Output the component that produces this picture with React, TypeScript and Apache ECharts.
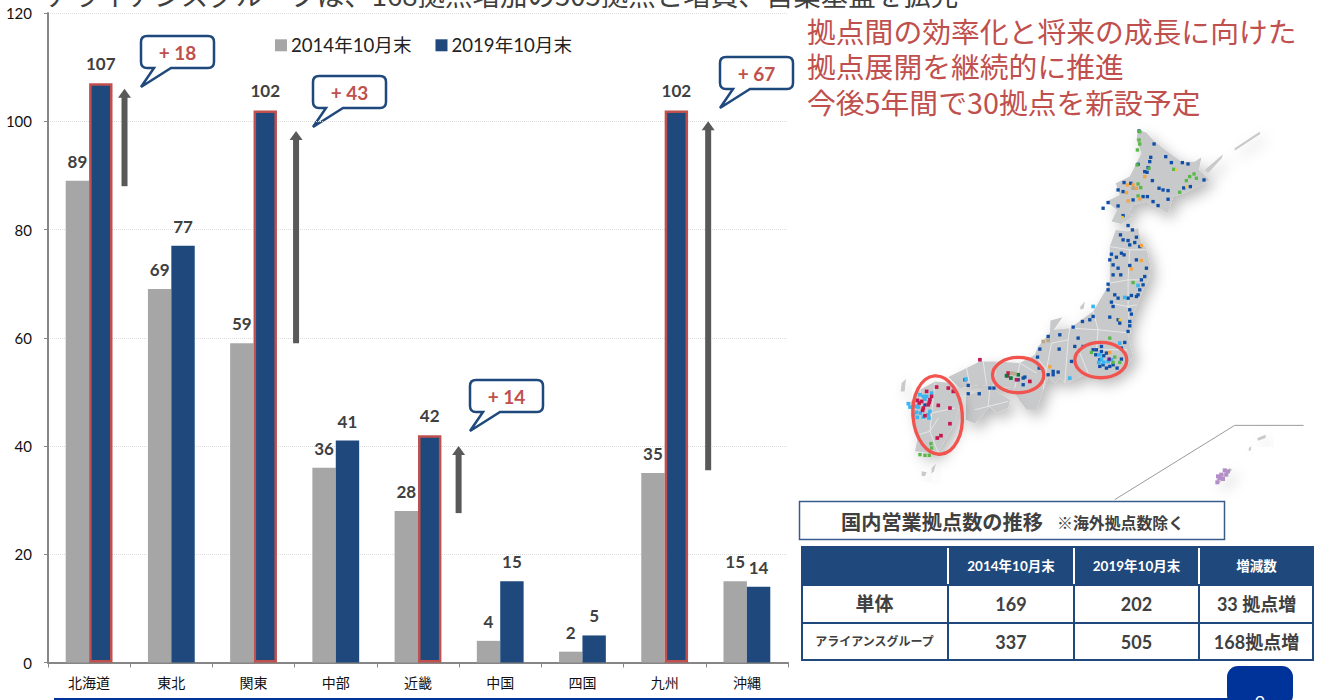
import React, { useEffect, useRef } from "react";
import * as echarts from "echarts";

const regions = ["北海道", "東北", "関東", "中部", "近畿", "中国", "四国", "九州", "沖縄"];
const values2014 = [89, 69, 59, 36, 28, 4, 2, 35, 15];
const values2019 = [107, 77, 102, 41, 42, 15, 5, 102, 14];
const highlighted = [0, 2, 4, 7];
const seriesNames = ["2014年10月末", "2019年10月末"];
const yTicks = { min: 0, max: 120, interval: 20 };
// category index, arrow foot, arrow head
const arrowValues = [
  [0, 88, 106],
  [2, 59, 98.2],
  [4, 27.6, 40],
  [7, 35.5, 100],
];
const arrowOffsets = [35.4, 42.5, 40.6, 43.5];
const callouts = [
  { text: "+ 18", x: 141, y: 36 },
  { text: "+ 43", x: 313, y: 76 },
  { text: "+ 14", x: 470, y: 380 },
  { text: "+ 67", x: 720, y: 57 },
];
const redLines = ["拠点間の効率化と将来の成長に向けた", "拠点展開を継続的に推進", "今後5年間で30拠点を新設予定"];
const topLine = "アライアンスグループは、168拠点増加の505拠点と増員、営業基盤を拡充";
const tableHeader = ["", "2014年10月末", "2019年10月末", "増減数"];
const tableRows = [
  ["単体", "169", "202", "33 拠点増"],
  ["アライアンスグループ", "337", "505", "168拠点増"],
];

const NAVY = "#1f497d";
const GRAY = "#a6a6a6";
const RED = "#c0504d";
const DARK = "#404040";
const CJK = '"Noto Sans CJK JP", sans-serif';
const LATIN = 'Lato, "Noto Sans CJK JP", sans-serif';

// Map drawn in a 3x working space
const landShapes: number[][][] = [
  [[775,28],[800,38],[820,60],[850,85],[905,125],[945,125],[965,112],[958,150],[990,180],[925,215],[880,230],[865,280],[800,245],[760,255],[745,280],[760,290],[725,312],[695,305],[712,270],[680,245],[720,225],[708,190],[750,170],[770,130],[785,100],[770,60]],
  [[708,330],[745,335],[775,325],[785,370],[800,385],[812,440],[808,475],[790,510],[770,560],[755,600],[745,650],[760,710],[735,745],[690,775],[640,775],[625,760],[560,790],[540,775],[525,790],[505,770],[490,810],[470,870],[440,870],[410,830],[402,805],[350,800],[300,795],[240,805],[205,772],[300,725],[350,725],[420,730],[465,705],[475,680],[510,640],[512,602],[548,592],[522,630],[570,625],[640,575],[690,490],[690,380]],
  [[258,830],[330,800],[360,822],[390,840],[385,865],[350,880],[330,860],[285,912],[258,900]],
  [[165,785],[215,790],[240,850],[225,910],[190,970],[170,1002],[105,995],[115,945],[100,900],[90,850],[120,810]],
  [[1065,85],[1140,35],[1142,42],[1065,92]],
  [[975,150],[1030,103],[1026,115],[985,160]],
  [[600,562],[615,545],[612,566],[603,570]],
  [[125,1055],[140,1058],[135,1070],[125,1068]],
  [[155,1045],[168,1032],[162,1055],[155,1062]],
  [[65,790],[78,778],[74,815],[62,815]],
  [[1133,955],[1158,945],[1158,955],[1135,963]],
  [[1108,985],[1115,980],[1113,993],[1107,993]],
  [[1010,1080],[1050,1045],[1058,1050],[1020,1090]],
];
const prefectureLines: number[][][] = [
  [[690,380],[750,390],[805,390]],
  [[750,390],[745,480],[790,480]],
  [[690,490],[745,480],[745,560],[770,555]],
  [[690,550],[745,560],[752,640]],
  [[655,630],[752,640]],
  [[640,575],[655,630],[650,690],[742,690]],
  [[570,625],[655,630]],
  [[515,670],[565,660],[570,625]],
  [[565,660],[555,790]],
  [[515,670],[500,750]],
  [[600,700],[625,760]],
  [[465,705],[500,750],[490,810]],
  [[420,730],[405,805]],
  [[420,730],[470,760]],
  [[350,725],[340,798]],
  [[310,725],[320,795]],
  [[260,745],[270,800]],
  [[330,800],[325,860],[285,870]],
  [[325,860],[385,845]],
  [[165,790],[155,880],[150,935],[175,1000]],
  [[155,880],[225,865]],
  [[175,895],[150,935],[115,945]],
  [[120,810],[130,900]],
];
const markerGroups: { color: string; size: number; points: number[][] }[] = [
  { color: "#0f4fa8", size: 10, points: [[778,33],[823,72],[858,110],[813,112],[810,125],[875,128],[908,128],[925,132],[775,133],[805,143],[802,157],[818,182],[795,155],[733,188],[753,190],[838,205],[865,212],[850,210],[912,204],[932,200],[973,180],[715,210],[730,215],[790,230],[803,230],[835,257],[865,238],[820,245],[685,248],[670,265],[715,258],[760,240],[730,287],[745,317],[758,330],[770,352],[722,345],[730,360],[745,362],[765,368],[780,380],[750,375],[695,403],[725,400],[710,412],[733,405],[690,420],[700,435],[715,445],[750,437],[770,420],[800,445],[795,470],[700,465],[723,465],[785,480],[790,495],[780,510],[775,525],[755,527],[770,530],[685,493],[685,510],[705,525],[715,535],[695,547],[745,535],[750,570],[755,583],[700,560],[640,590],[630,600],[690,592],[715,600],[720,610],[750,605],[750,618],[745,635],[580,622],[608,605],[540,645],[505,650],[595,655],[735,668],[725,685],[665,680],[585,680],[610,680],[480,688],[473,712],[478,745],[575,725],[538,688],[640,690],[650,690],[665,695],[680,700],[660,720],[670,735],[660,740],[690,740],[700,735],[725,718],[672,708],[648,705],[680,745],[712,745],[505,765],[520,755],[535,757],[520,765],[430,795],[430,775],[415,780],[435,772],[255,780],[265,797],[265,822],[298,822],[330,805],[342,805],[135,856]] },
  { color: "#38b6f1", size: 11, points: [[130,830],[140,830],[155,820],[120,825],[85,852],[90,862],[115,862],[110,878],[112,893],[130,892],[145,885],[147,895],[258,778],[640,560],[735,533],[665,718],[685,725],[657,728],[570,775],[720,670],[775,497],[135,838],[108,860],[122,880],[100,885],[150,875],[660,705],[695,720],[672,728]] },
  { color: "#c8174f", size: 11, points: [[300,720],[170,802],[205,805],[220,815],[140,815],[150,840],[145,855],[175,857],[210,865],[125,845],[130,865],[135,888],[210,912],[172,955],[183,948],[450,785],[385,760],[383,768],[410,780],[118,850],[155,830],[148,848],[128,872],[112,842]] },
  { color: "#57b847", size: 10, points: [[780,35],[778,60],[780,72],[773,90],[772,135],[808,145],[882,148],[930,170],[943,162],[950,175],[920,182],[900,217],[775,192],[783,203],[775,228],[760,488],[690,655],[635,698],[705,712],[720,728],[700,728],[153,972],[155,985],[120,1005],[135,1007],[148,1007]] },
  { color: "#0a7a3f", size: 11, points: [[415,765],[380,768],[393,775]] },
  { color: "#f4a340", size: 10, points: [[743,195],[795,170],[760,195],[770,205],[740,218],[745,243],[780,237],[755,447],[785,422],[510,741],[690,698],[785,377]] },
  { color: "#f7c82e", size: 8, points: [[890,150],[920,200],[728,292],[720,600]] },
  { color: "#b8a98a", size: 11, points: [[490,665],[505,662],[395,760],[405,762],[760,205]] },
  { color: "#b48ec8", size: 12, points: [[1025,1065],[1035,1052],[1045,1055],[1020,1075],[1030,1078],[1013,1088],[1040,1065],[1015,1070]] },
  { color: "#6a1b8a", size: 10, points: [[688,718]] },
];
const mapEllipses = [
  { cx: 172, cy: 886, rx: 74, ry: 118, rotation: 0.08 },
  { cx: 415, cy: 766, rx: 77, ry: 53, rotation: 0 },
  { cx: 663, cy: 721, rx: 78, ry: 53, rotation: 0 },
];

echarts.graphic.registerShape(
  "speechBubble",
  echarts.graphic.extendPath("M6 0H67Q73 0 73 6V26Q73 32 67 32H30L0 51L13 32H6Q0 32 0 26V6Q0 0 6 0Z", {})
);

function buildMap() {
  const children: any[] = [];
  landShapes.forEach((points) =>
    children.push({
      type: "polygon",
      shape: { points },
      style: { fill: "#c8c9cb", shadowBlur: 14, shadowColor: "rgba(0,0,0,0.28)", shadowOffsetX: 5, shadowOffsetY: 6 },
    })
  );
  prefectureLines.forEach((points) =>
    children.push({ type: "polyline", shape: { points }, style: { stroke: "#ececec", lineWidth: 2.5, fill: "none" } })
  );
  children.push({
    type: "polyline",
    shape: { points: [[705,1140],[1065,917],[1272,917]] },
    style: { stroke: "#9a9a9a", lineWidth: 3, fill: "none" },
  });
  markerGroups.forEach((g) =>
    g.points.forEach(([x, y]) =>
      children.push({
        type: "rect",
        shape: { x: x - g.size / 2, y: y - g.size / 2, width: g.size, height: g.size },
        style: { fill: g.color },
      })
    )
  );
  mapEllipses.forEach((e) =>
    children.push({
      type: "ellipse",
      shape: { cx: e.cx, cy: e.cy, rx: e.rx, ry: e.ry },
      originX: e.cx,
      originY: e.cy,
      rotation: e.rotation,
      style: { fill: "none", stroke: "#f1534e", lineWidth: 10 },
    })
  );
  return { type: "group", x: 880, y: 120, scaleX: 1 / 3, scaleY: 1 / 3, silent: true, children };
}

function buildTable() {
  const colX = [801, 948, 1074, 1199, 1314];
  const rowY = [546, 585, 623, 661];
  const els: any[] = [];
  els.push({ type: "rect", shape: { x: 799.5, y: 501.5, width: 425, height: 38 }, style: { fill: "#fff", stroke: "#385d8a", lineWidth: 1.5 } });
  els.push({ type: "text", x: 841, y: 521, style: { text: "国内営業拠点数の推移", font: `bold 20.2px ${CJK}`, fill: DARK, verticalAlign: "middle" } });
  els.push({ type: "text", x: 1057, y: 522, style: { text: "※海外拠点数除く", font: `bold 15.9px ${CJK}`, fill: DARK, verticalAlign: "middle" } });
  els.push({ type: "rect", shape: { x: colX[0], y: rowY[0], width: colX[4] - colX[0], height: rowY[1] - rowY[0] }, style: { fill: NAVY } });
  els.push({ type: "rect", shape: { x: colX[0] + 1, y: rowY[1], width: colX[4] - colX[0] - 2, height: rowY[3] - rowY[1] - 1 }, style: { fill: "#fff", stroke: NAVY, lineWidth: 2 } });
  els.push({ type: "line", shape: { x1: colX[0], y1: rowY[2], x2: colX[4], y2: rowY[2] }, style: { stroke: NAVY, lineWidth: 2 } });
  [1, 2, 3].forEach((i) => {
    els.push({ type: "line", shape: { x1: colX[i], y1: rowY[0] + 2, x2: colX[i], y2: rowY[1] - 1 }, style: { stroke: "#fff", lineWidth: 2 } });
    els.push({ type: "line", shape: { x1: colX[i], y1: rowY[1], x2: colX[i], y2: rowY[3] }, style: { stroke: NAVY, lineWidth: 2 } });
  });
  tableHeader.forEach((t, i) => {
    if (!t) return;
    els.push({
      type: "text",
      x: (colX[i] + colX[i + 1]) / 2,
      y: (rowY[0] + rowY[1]) / 2,
      style: { text: t, font: `bold 13.5px ${LATIN}`, fill: "#fff", textAlign: "center", verticalAlign: "middle" },
    });
  });
  tableRows.forEach((row, r) =>
    row.forEach((t, i) => {
      const size = i === 0 ? (r === 0 ? 19 : 12) : 18;
      els.push({
        type: "text",
        x: (colX[i] + colX[i + 1]) / 2,
        y: (rowY[r + 1] + rowY[r + 2]) / 2 - 0.5,
        style: { text: t, font: `bold ${size}px ${LATIN}`, fill: DARK, textAlign: "center", verticalAlign: "middle" },
      });
    })
  );
  return els;
}

function buildGraphics() {
  const els: any[] = [];
  els.push({ type: "text", x: 45, y: 8, style: { text: topLine, font: `27.5px ${CJK}`, fill: DARK, verticalAlign: "bottom" } });
  redLines.forEach((t, i) =>
    els.push({ type: "text", x: 807, y: 30 + i * 35.7, style: { text: t, font: `28.8px ${CJK}`, fill: RED, verticalAlign: "middle" } })
  );
  callouts.forEach((c) => {
    els.push({ type: "speechBubble", x: c.x, y: c.y, style: { fill: "#fff", stroke: NAVY, lineWidth: 2.5 } });
    els.push({
      type: "text",
      x: c.x + 36.5,
      y: c.y + 16,
      style: { text: c.text, font: `bold 19px ${LATIN}`, fill: RED, textAlign: "center", verticalAlign: "middle" },
    });
  });
  els.push(buildMap());
  els.push(...buildTable());
  els.push({ type: "rect", shape: { x: 54, y: 698, width: 1175, height: 2 }, style: { fill: "#003399" } });
  els.push({ type: "rect", shape: { x: 1227, y: 666, width: 66, height: 40, r: 11 }, style: { fill: "#003399" } });
  els.push({ type: "text", x: 1260, y: 702, style: { text: "9", font: `18px ${LATIN}`, fill: "#fff", textAlign: "center", verticalAlign: "middle" } });
  return els;
}

export default function App() {
  const ref = useRef<HTMLDivElement>(null);
  useEffect(() => {
    document.body.style.margin = "0";
    const chart = echarts.init(ref.current!, undefined, { renderer: "svg" });
    const labelStyle = {
      show: true,
      position: "top" as const,
      distance: 11,
      fontFamily: LATIN,
      fontWeight: "bold" as const,
      fontSize: 17,
      color: DARK,
    };
    chart.setOption({
      animation: false,
      backgroundColor: "#fff",
      grid: { left: 48, top: 13, width: 740, height: 649.5, containLabel: false },
      legend: {
        data: seriesNames,
        left: 275,
        top: 36,
        padding: 0,
        icon: "rect",
        itemWidth: 12,
        itemHeight: 12,
        itemGap: 24,
        selectedMode: false,
        textStyle: { fontFamily: LATIN, fontSize: 18.6, color: "#222", padding: [0, 0, 5, -1] },
      },
      xAxis: {
        type: "category",
        data: regions,
        axisLine: { lineStyle: { color: "#868686", width: 2 } },
        axisTick: { show: true, length: 5, lineStyle: { color: "#868686" } },
        axisLabel: { margin: 12, fontFamily: CJK, fontSize: 14, color: "#111" },
      },
      yAxis: {
        type: "value",
        ...yTicks,
        axisLine: { show: true, lineStyle: { color: "#868686", width: 2 } },
        axisTick: { show: true, length: 4, lineStyle: { color: "#868686" } },
        axisLabel: { margin: 16, fontFamily: LATIN, fontSize: 15, color: "#111" },
        splitLine: { show: true, lineStyle: { color: "#dedede", type: "dotted", width: 1 } },
      },
      series: [
        {
          name: seriesNames[0],
          type: "bar",
          data: values2014,
          barWidth: 23.4,
          barGap: 0,
          itemStyle: { color: GRAY },
          label: labelStyle,
        },
        {
          name: seriesNames[1],
          type: "bar",
          data: values2019.map((v, i) =>
            highlighted.includes(i)
              ? { value: v, itemStyle: { color: NAVY, borderColor: RED, borderWidth: 2.5 } }
              : v
          ),
          barWidth: 23.4,
          itemStyle: { color: NAVY },
          label: labelStyle,
        },
        {
          type: "custom",
          silent: true,
          clip: false,
          z: 5,
          data: arrowValues,
          encode: { x: 0, y: [1, 2] },
          renderItem: (params: any, api: any) => {
            const idx = api.value(0);
            const foot = api.coord([idx, api.value(1)]);
            const head = api.coord([idx, api.value(2)]);
            const x = foot[0] + arrowOffsets[params.dataIndex];
            return {
              type: "group",
              children: [
                { type: "rect", shape: { x: x - 3, y: head[1] + 8, width: 6, height: foot[1] - head[1] - 8 }, style: { fill: "#595959" } },
                { type: "polygon", shape: { points: [[x, head[1]], [x + 6.5, head[1] + 9], [x - 6.5, head[1] + 9]] }, style: { fill: "#595959" } },
              ],
            };
          },
        },
      ],
      graphic: { elements: buildGraphics() },
    });
    return () => chart.dispose();
  }, []);
  return <div ref={ref} style={{ width: 1320, height: 700, overflow: "hidden" }} />;
}
